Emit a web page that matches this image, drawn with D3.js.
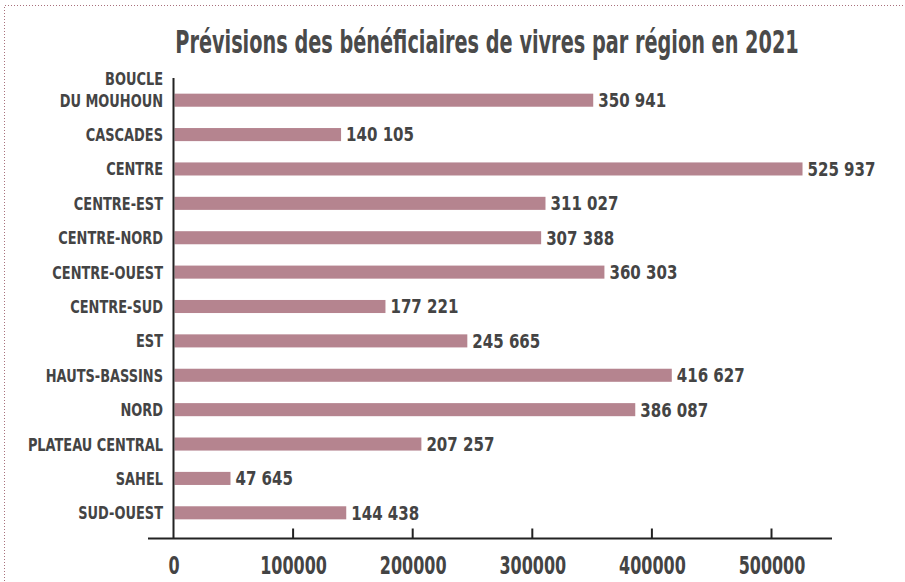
<!DOCTYPE html>
<html><head><meta charset="utf-8">
<script src="https://cdn.jsdelivr.net/npm/d3@7"></script>
<style>
html,body{margin:0;padding:0;background:#fff;}
svg{display:block;}
</style></head>
<body>
<script>
const categories = ["BOUCLE\nDU MOUHOUN","CASCADES","CENTRE","CENTRE-EST","CENTRE-NORD","CENTRE-OUEST","CENTRE-SUD","EST","HAUTS-BASSINS","NORD","PLATEAU CENTRAL","SAHEL","SUD-OUEST"];
const values = [350941,140105,525937,311027,307388,360303,177221,245665,416627,386087,207257,47645,144438];
const tickValues = [0,100000,200000,300000,400000,500000];
const title = "Prévisions des bénéficiaires de vivres par région en 2021";

const W=905,H=582;
const font = "'DejaVu Sans Condensed','Liberation Sans',sans-serif";
const txt = "#444";
const SX = 0.8;
const svg = d3.select("body").append("svg").attr("width",W).attr("height",H);

// dotted frame
svg.append("path").attr("d",`M4.5,${H+5} V5.5 H${W+5}`).attr("fill","none")
  .attr("stroke","#a8707c").attr("stroke-width",1).attr("stroke-dasharray","1,2");

svg.append("g").attr("transform","translate(487,53) scale(0.67,1)")
  .append("text").attr("x",0).attr("y",0).attr("text-anchor","middle")
  .attr("font-family","'DejaVu Sans Condensed',sans-serif").attr("font-weight","bold")
  .attr("font-size",32).attr("fill","#4a4a4a").text(title);

const x0=173.5, axisY=538.5;
const x = d3.scaleLinear().domain([0,500000]).range([x0, x0+598]);
const y = d3.scaleBand().domain(categories).range([83, 530]).paddingInner(0.62).paddingOuter(0.31);

const g = svg.append("g");
g.selectAll("rect.bar").data(values).join("rect").attr("class","bar")
  .attr("x",x(0)+1).attr("y",(d,i)=>y(categories[i]))
  .attr("width",d=>x(d)-x(0)-1).attr("height",y.bandwidth())
  .attr("fill","#b5848f");

const fmt = v => d3.format(",")(v).replace(/,/g," ");
g.selectAll("g.val").data(values).join("g").attr("class","val")
  .attr("transform",(d,i)=>`translate(${x(d)+5},${y(categories[i])+y.bandwidth()/2}) scale(0.88,1)`)
  .append("text").attr("dy","0.36em").attr("font-family",font).attr("font-weight","bold")
  .attr("font-size",19).attr("fill",txt).text(fmt);

// y axis line
svg.append("line").attr("x1",x0).attr("x2",x0).attr("y1",78).attr("y2",axisY)
  .attr("stroke","#222").attr("stroke-width",2);

// category labels
categories.forEach((c,i)=>{
  const lines=c.split("\n");
  const cy=y(c)+y.bandwidth()/2;
  lines.forEach((l,k)=>{
    svg.append("g").attr("transform",`translate(163,${cy+(k-(lines.length-1))*22}) scale(${SX},1)`)
      .append("text").attr("text-anchor","end").attr("dy","0.36em")
      .attr("font-family",font).attr("font-weight","bold").attr("font-size",18).attr("fill",txt).text(l);
  });
});

// x axis
const xAxis = d3.axisBottom(x).tickValues(tickValues).tickSize(0).tickPadding(21).tickFormat(d3.format("d"));
const ax = svg.append("g").attr("transform",`translate(0,${axisY})`).call(xAxis);
ax.select(".domain").remove();
ax.selectAll("text").attr("font-family",font).attr("font-weight","bold").attr("font-size",24)
  .attr("fill",txt).attr("dy","0.6em").attr("transform",`scale(0.74,1)`);
ax.append("line").attr("x1",148).attr("x2",832).attr("y1",0).attr("y2",0).attr("stroke","#222").attr("stroke-width",2);
ax.selectAll(".tk").data(tickValues.slice(1)).join("line").attr("class","tk")
  .attr("x1",d=>x(d)).attr("x2",d=>x(d)).attr("y1",0).attr("y2",-10).attr("stroke","#222").attr("stroke-width",2);
</script>
</body></html>
